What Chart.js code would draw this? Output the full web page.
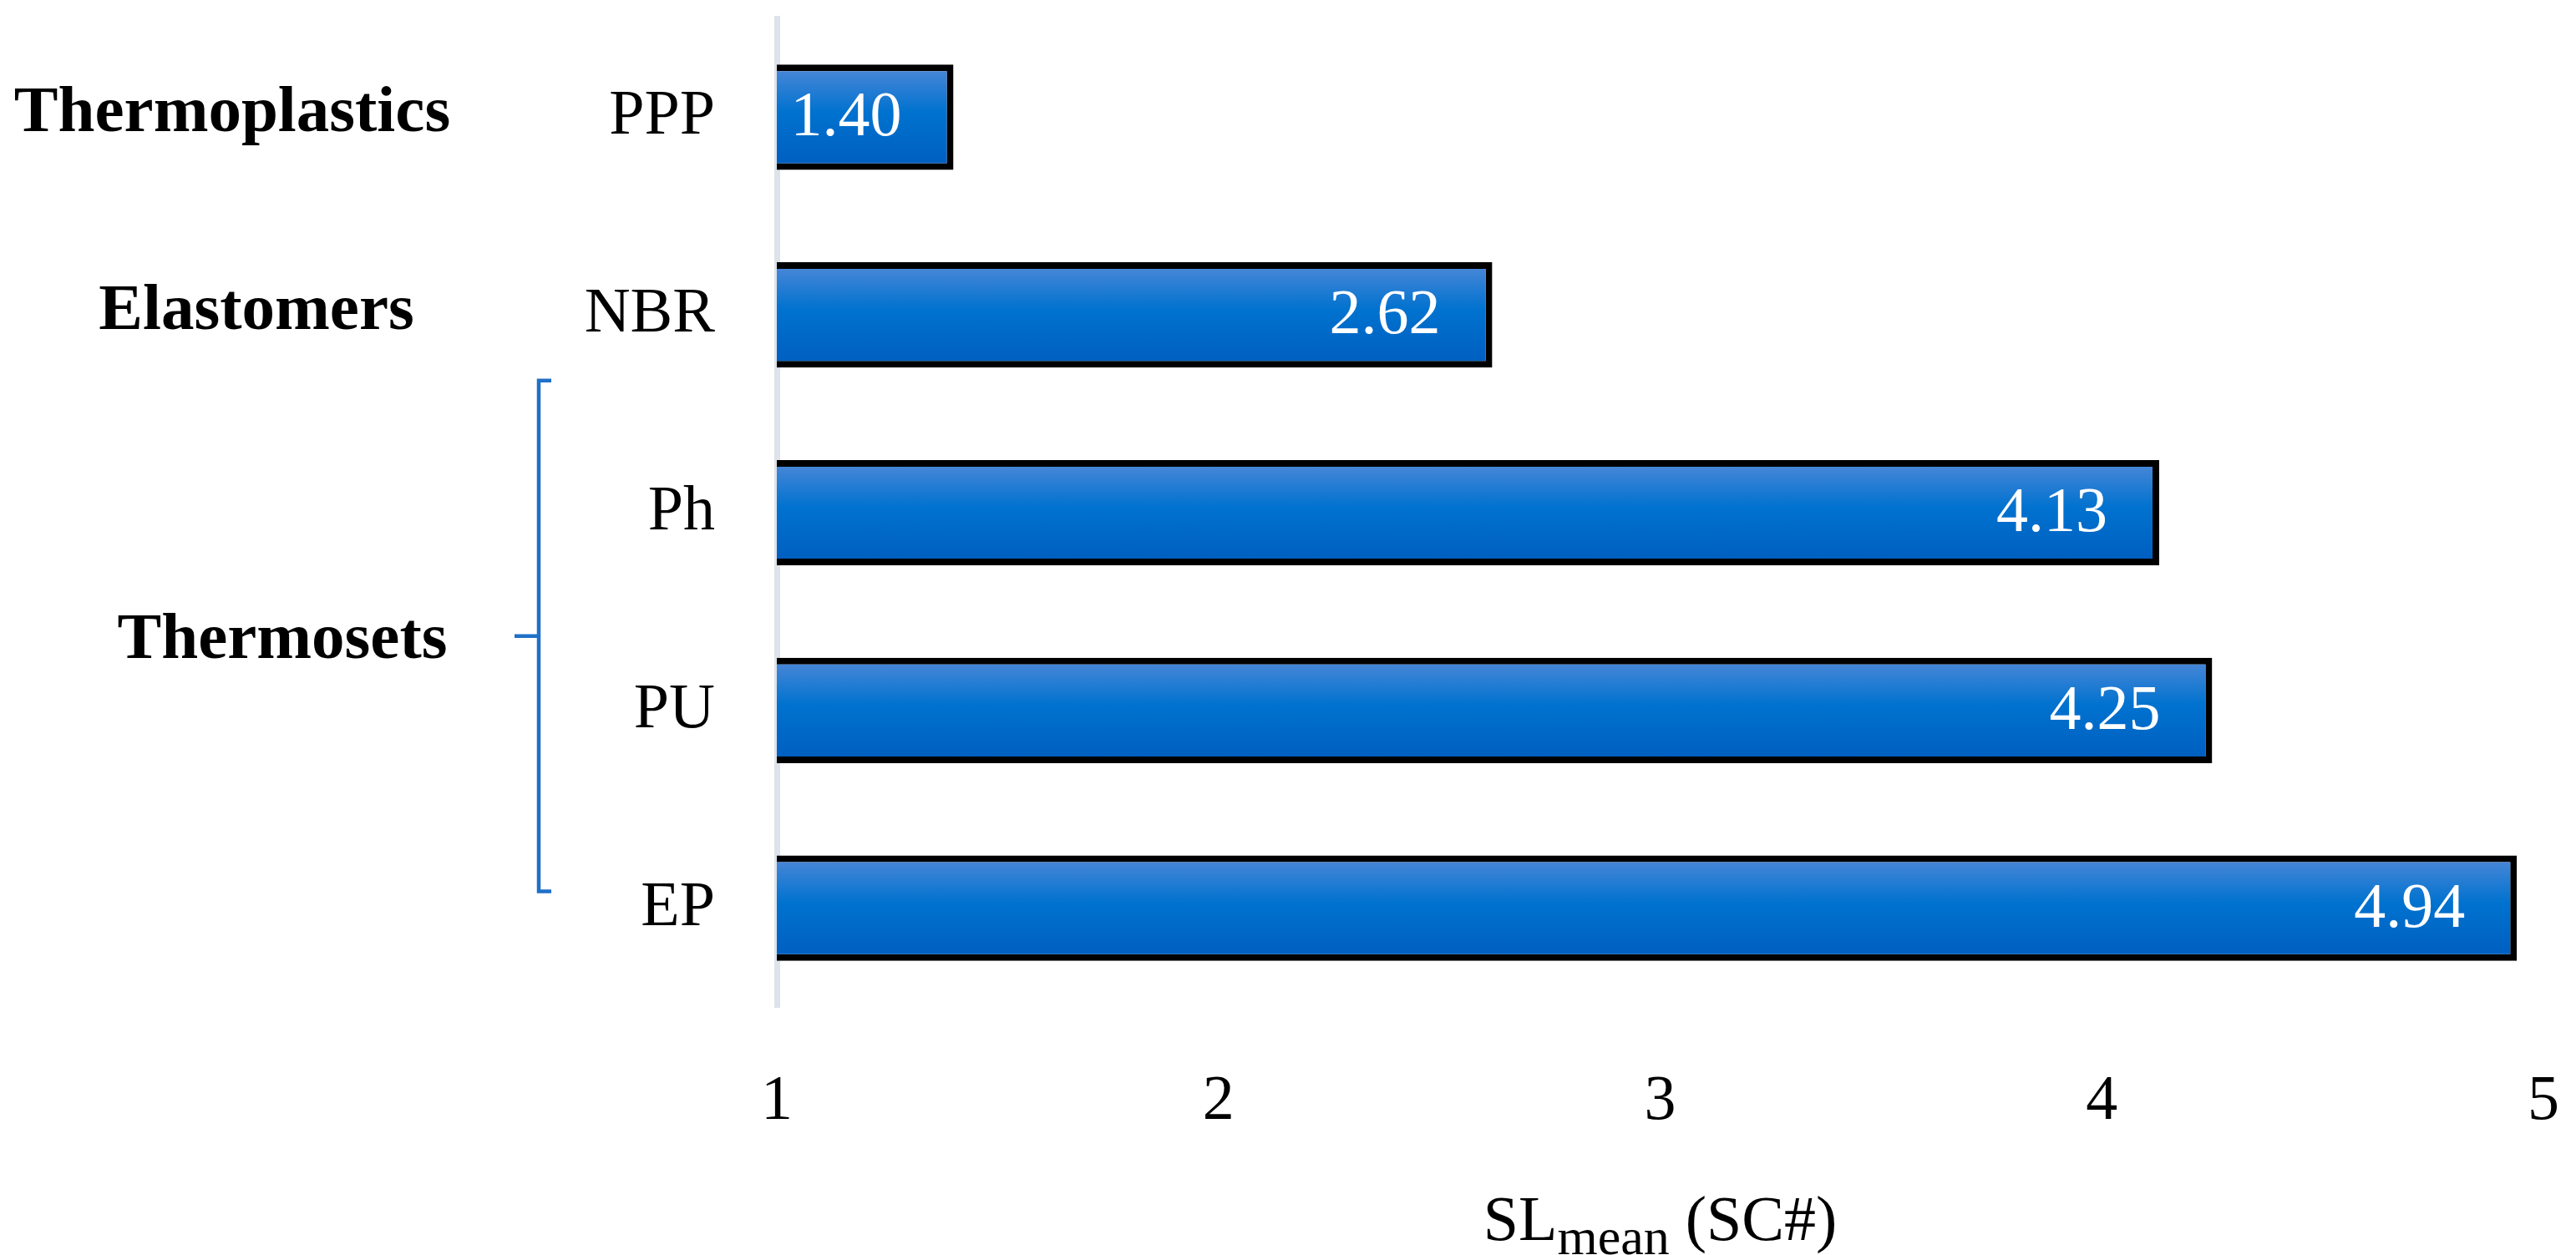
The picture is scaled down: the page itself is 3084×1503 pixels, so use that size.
<!DOCTYPE html>
<html>
<head>
<meta charset="utf-8">
<script src="https://cdn.jsdelivr.net/npm/chart.js@4.4.0/dist/chart.umd.min.js"></script>
<style>
  html, body { margin: 0; padding: 0; background: #fff; }
</style>
</head>
<body>
<canvas id="slChart" width="3084" height="1503"></canvas>
<script>
// SL mean per material, grouped by polymer class

const CATEGORIES = ['PPP', 'NBR', 'Ph', 'PU', 'EP'];
const SL_MEAN = [1.40, 2.62, 4.13, 4.25, 4.94];
const X_MIN = 1;
const X_MAX = 5;
const X_STEP = 1;
const AXIS_TITLE = ['SL', 'mean', ' (SC#)'];
const GROUP_LABELS = ['Thermoplastics', 'Elastomers', 'Thermosets'];
const GROUP_FROM = [0, 1, 2];
const GROUP_TO = [0, 1, 4];

const SERIF = "'Liberation Serif', 'DejaVu Serif', serif";
const BRACKET_BLUE = '#1f70c8';

function barGradient(ctx) {
  const chart = ctx.chart;
  const y = chart.scales.y;
  if (!y || ctx.dataIndex == null) return '#0070cc';
  const step = y.getPixelForValue(1) - y.getPixelForValue(0);
  const c = y.getPixelForValue(ctx.dataIndex);
  if (!isFinite(step) || !isFinite(c)) return '#0070cc';
  const half = step * 0.533 / 2;
  const g = chart.ctx.createLinearGradient(0, c - half, 0, c + half);
  g.addColorStop(0, '#5089d8');
  g.addColorStop(0.45, '#0072cf');
  g.addColorStop(1, '#005dbf');
  return g;
}

// white value text near the end of each bar
const valueLabels = {
  id: 'valueLabels',
  afterDatasetsDraw(chart) {
    const ctx = chart.ctx;
    const meta = chart.getDatasetMeta(0);
    ctx.save();
    ctx.font = '76px ' + SERIF;
    ctx.fillStyle = '#fff';
    ctx.textAlign = 'right';
    ctx.textBaseline = 'middle';
    meta.data.forEach((bar, i) => {
      ctx.fillText(SL_MEAN[i].toFixed(2), bar.x - 62, bar.y + 2);
    });
    ctx.restore();
  }
};

// class names on the left + bracket for the thermosets
const groupLabels = {
  id: 'groupLabels',
  afterDraw(chart) {
    const ctx = chart.ctx;
    const y = chart.scales.y;
    const step = y.getPixelForValue(1) - y.getPixelForValue(0);
    const xCenters = [278, 307, 338];
    ctx.save();
    ctx.font = 'bold 79px ' + SERIF;
    ctx.fillStyle = '#000';
    ctx.textAlign = 'center';
    ctx.textBaseline = 'alphabetic';
    GROUP_LABELS.forEach((label, i) => {
      let yc;
      if (GROUP_FROM[i] === GROUP_TO[i]) {
        yc = y.getPixelForValue(GROUP_FROM[i]) - 9;
      } else {
        const top = y.getPixelForValue(GROUP_FROM[i]) - 0.668 * step;
        const bottom = y.getPixelForValue(GROUP_TO[i]) - 0.085 * step;
        yc = (top + bottom) / 2;
        // bracket
        ctx.strokeStyle = BRACKET_BLUE;
        ctx.lineWidth = 4.5;
        ctx.beginPath();
        ctx.moveTo(660, top);
        ctx.lineTo(645, top);
        ctx.lineTo(645, bottom);
        ctx.lineTo(660, bottom);
        ctx.moveTo(616, yc);
        ctx.lineTo(645, yc);
        ctx.stroke();
      }
      ctx.fillText(label, xCenters[i], yc + 26);
    });
    ctx.restore();
  }
};

// x axis title with subscript
const axisTitle = {
  id: 'axisTitle',
  afterDraw(chart) {
    const ctx = chart.ctx;
    const area = chart.chartArea;
    const big = '76px ' + SERIF;
    const small = '62px ' + SERIF;
    ctx.save();
    ctx.fillStyle = '#000';
    ctx.textBaseline = 'alphabetic';
    ctx.textAlign = 'left';
    ctx.font = big;
    const w0 = ctx.measureText(AXIS_TITLE[0]).width;
    const w2 = ctx.measureText(AXIS_TITLE[2]).width;
    ctx.font = small;
    const w1 = ctx.measureText(AXIS_TITLE[1]).width;
    const total = w0 + w1 + w2;
    let x = (area.left + area.right) / 2 - total / 2;
    const base = 1485;
    ctx.font = big;
    ctx.fillText(AXIS_TITLE[0], x, base);
    x += w0;
    ctx.font = small;
    ctx.fillText(AXIS_TITLE[1], x, base + 17);
    x += w1;
    ctx.font = big;
    ctx.fillText(AXIS_TITLE[2], x, base);
    ctx.restore();
  }
};

const ctx = document.getElementById('slChart').getContext('2d');
new Chart(ctx, {
  type: 'bar',
  data: {
    labels: CATEGORIES,
    datasets: [{
      data: SL_MEAN,
      backgroundColor: barGradient,
      borderColor: '#000',
      borderWidth: 8,
      borderSkipped: 'start',
      categoryPercentage: 1,
      barPercentage: 0.533
    }]
  },
  options: {
    indexAxis: 'y',
    responsive: false,
    animation: false,
    layout: { padding: { top: 22, right: 39, bottom: 0, left: 0 } },
    plugins: {
      legend: { display: false },
      tooltip: { enabled: false }
    },
    scales: {
      x: {
        min: X_MIN,
        max: X_MAX,
        grid: { display: false, drawTicks: false },
        border: { display: false },
        ticks: {
          stepSize: X_STEP,
          padding: 68,
          color: '#000',
          font: { family: SERIF, size: 76 }
        },
        afterFit(scale) {
          scale.height = 297;
          scale.paddingLeft = 0;
          scale.paddingRight = 0;
        }
      },
      y: {
        z: 1,
        grid: { display: false, drawTicks: false },
        border: { display: true, color: '#dde3ea', width: 7 },
        ticks: {
          padding: 74,
          color: '#000',
          font: { family: SERIF, size: 76 }
        },
        afterFit(scale) {
          scale.width = 930;
          scale.paddingTop = 0;
          scale.paddingBottom = 0;
        }
      }
    }
  },
  plugins: [valueLabels, groupLabels, axisTitle]
});
</script>
</body>
</html>
